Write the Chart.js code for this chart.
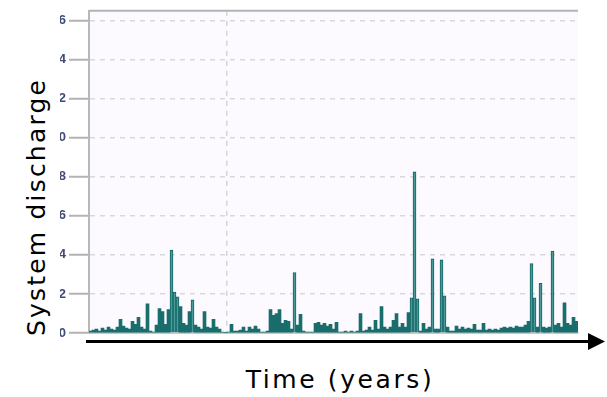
<!DOCTYPE html>
<html>
<head>
<meta charset="utf-8">
<script src="https://cdn.jsdelivr.net/npm/chart.js@4.4.1/dist/chart.umd.min.js"></script>
<style>
  body { margin: 0; background: #fff; width: 607px; height: 397px; position: relative; overflow: hidden; font-family: "DejaVu Sans", sans-serif; }
  #clip { position: absolute; left: 60px; top: 0; width: 540px; height: 345px; overflow: hidden; }
  #box { position: absolute; left: -30px; top: 0; width: 550px; height: 345px; }
  #ytitle { position: absolute; left: 36px; top: 207px; transform: translate(-50%, -50%) rotate(-90deg); white-space: nowrap; font-size: 25px; letter-spacing: 2.2px; color: #000; }
  #xtitle { position: absolute; left: 340px; top: 379px; transform: translate(-50%, -50%); white-space: nowrap; font-size: 25px; letter-spacing: 2.6px; color: #000; }
  svg { position: absolute; left: 0; top: 0; }
</style>
</head>
<body>
<div id="clip"><div id="box"><canvas id="dischargeChart"></canvas></div></div>
<div id="ytitle">System discharge</div>
<div id="xtitle">Time (years)</div>
<svg width="607" height="397">
  <line x1="86" y1="341.5" x2="592" y2="341.5" stroke="#000" stroke-width="3"/>
  <polygon points="588,333 605,341.5 588,350" fill="#000"/>
</svg>
<script>
// valores (una barra por paso de tiempo)
const discharge = [
  0.1, 0.15, 0.2, 0.1, 0.25, 0.15, 0.3, 0.2, 0.15, 0.3,
  0.7, 0.35, 0.25, 0.2, 0.6, 0.45, 0.8, 0.3, 0.2, 1.5,
  0.1, 0.05, 0.4, 1.25, 1.1, 0.45, 1.2, 4.25, 2.1, 1.85,
  1.35, 0.5, 0.4, 1.1, 1.7, 0.4, 0.3, 0.2, 1.1, 0.3,
  0.25, 0.7, 0.3, 0.2, 0.05, 0.03, 0.05, 0.45, 0.1, 0.1,
  0.15, 0.3, 0.1, 0.3, 0.2, 0.35, 0.2, 0.05, 0.05, 0.1,
  1.2, 0.9, 1.0, 1.2, 0.5, 0.65, 0.6, 0.2, 3.1, 0.4,
  0.95, 0.1, 0.05, 0.05, 0.05, 0.5, 0.55, 0.4, 0.5, 0.35,
  0.45, 0.2, 0.55, 0.05, 0.05, 0.1, 0.05, 0.1, 0.05, 0.1,
  1.0, 0.1, 0.15, 0.3, 0.15, 0.65, 0.2, 1.35, 0.3, 0.2,
  0.3, 0.65, 1.0, 0.3, 0.5, 0.3, 1.05, 1.8, 8.25, 1.75,
  0.1, 0.5, 0.2, 0.3, 3.8, 0.2, 0.2, 3.75, 1.9, 0.3,
  0.1, 0.1, 0.35, 0.2, 0.3, 0.2, 0.25, 0.2, 0.45, 0.15,
  0.15, 0.5, 0.15, 0.2, 0.15, 0.2, 0.15, 0.25, 0.3, 0.25,
  0.3, 0.25, 0.35, 0.3, 0.3, 0.4, 0.6, 3.55, 1.8, 0.3,
  2.55, 0.3, 0.25, 0.3, 4.2, 0.4, 0.5, 0.3, 1.55, 0.5,
  0.4, 0.8, 0.6
];
const timeSteps = discharge.map((_, i) => String(i + 1));
const yTicks = [0, 2, 4, 6, 8, 10, 12, 14, 16];
const yMax = 16.5;
const markerStep = 46; // linea vertical punteada

// fondo del area y borde superior
const framePlugin = {
  id: 'frame',
  beforeDraw(chart) {
    const { ctx, chartArea: a } = chart;
    ctx.save();
    ctx.fillStyle = '#fcfaff';
    ctx.fillRect(a.left, a.top, a.right - a.left, a.bottom - a.top);
    ctx.restore();
  },
  afterDraw(chart) {
    const { ctx, chartArea: a } = chart;
    ctx.save();
    ctx.strokeStyle = '#b3b3b3';
    ctx.lineWidth = 2;
    ctx.beginPath();
    ctx.moveTo(a.left, a.top);
    ctx.lineTo(a.right, a.top);
    ctx.stroke();
    ctx.restore();
  }
};

// picos altos: centro claro con borde oscuro, el resto macizo
const isPeak = ctx => (ctx.raw || 0) > 1.6;

new Chart(document.getElementById('dischargeChart').getContext('2d'), {
  type: 'bar',
  data: {
    labels: timeSteps,
    datasets: [{
      data: discharge,
      backgroundColor: ctx => isPeak(ctx) ? '#4b9999' : '#196d6d',
      borderColor: '#0f6464',
      borderWidth: ctx => isPeak(ctx) ? { left: 1, right: 1, top: 1, bottom: 0 } : 0,
      borderSkipped: false,
      barPercentage: 1,
      categoryPercentage: 1
    }]
  },
  options: {
    responsive: true,
    maintainAspectRatio: false,
    animation: false,
    layout: { padding: { top: 10, right: 2, bottom: 12, left: 0 } },
    plugins: { legend: { display: false }, tooltip: { enabled: false } },
    scales: {
      x: {
        ticks: { display: false, autoSkip: false },
        grid: {
          drawTicks: false,
          color: ctx => ctx.index === markerStep ? '#d4d4d4' : 'transparent',
          lineWidth: 1.5
        },
        border: { display: true, color: '#c8c8c8', width: 2, dash: [5, 5] }
      },
      y: {
        min: 0,
        max: yMax,
        afterBuildTicks: scale => { scale.ticks = yTicks.map(v => ({ value: v })); },
        afterFit: scale => { scale.width = 59; },
        ticks: { color: '#3f4b78', font: { family: 'Liberation Sans', size: 13, weight: 'bold' }, padding: 3 },
        grid: { color: '#d8d8d8', lineWidth: 1.5, tickLength: 20, tickColor: '#b3b3b3', tickWidth: 2, tickBorderDash: [] },
        border: { display: true, color: '#b8b8b8', width: 2, dash: [5, 5] }
      }
    }
  },
  plugins: [framePlugin]
});
</script>
</body>
</html>
